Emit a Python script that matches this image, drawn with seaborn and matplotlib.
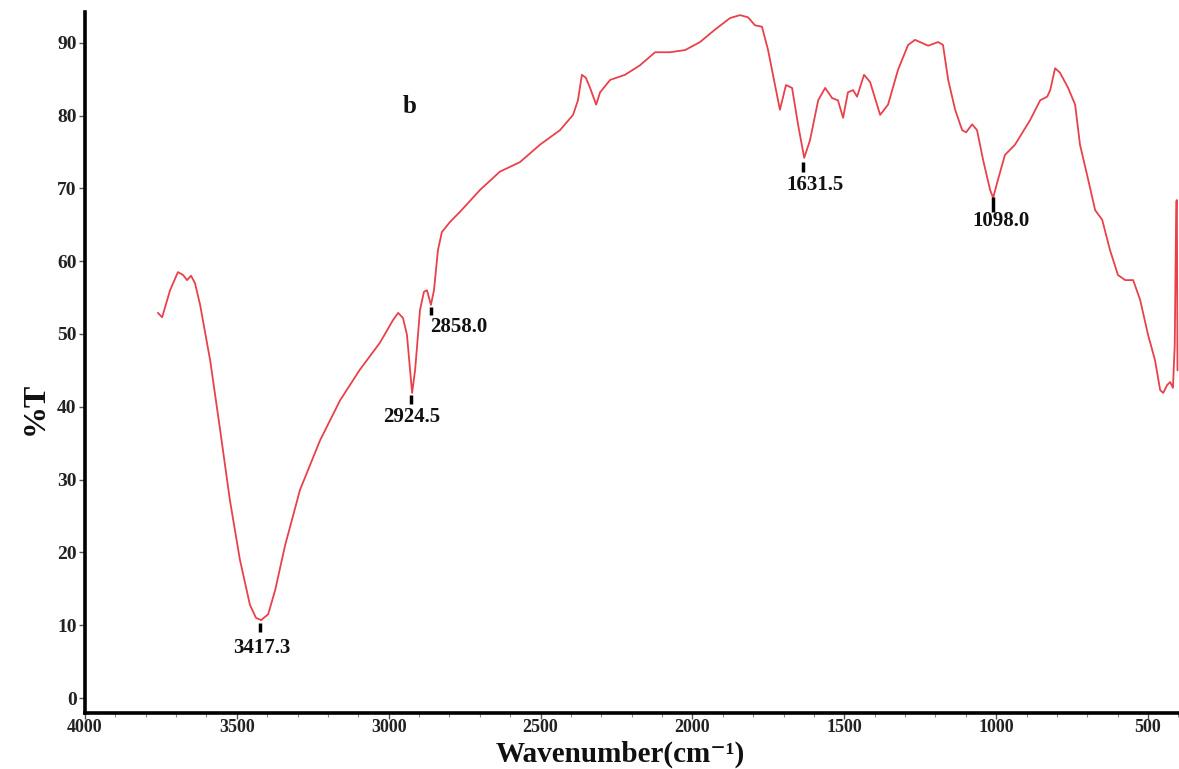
import numpy as np
import pandas as pd
import matplotlib
matplotlib.use("Agg")
import matplotlib.pyplot as plt
import seaborn as sns

# Spectrum (wavenumber cm^-1, %T)
wavenumber = [3760, 3746, 3720, 3694, 3677, 3664, 3651, 3638, 3621, 3588, 3555, 3523, 3490,
              3457, 3437, 3420, 3397, 3374, 3341, 3292, 3226, 3160, 3095, 3029, 2986, 2969,
              2953, 2940, 2930, 2923, 2913, 2897, 2884, 2874, 2861, 2851, 2838, 2825, 2798,
              2765, 2699, 2634, 2568, 2502, 2436, 2393, 2377, 2364, 2351, 2337, 2317, 2304,
              2271, 2222, 2173, 2123, 2074, 2024, 1975, 1926, 1876, 1843, 1817, 1794, 1771,
              1751, 1728, 1712, 1692, 1672, 1652, 1632, 1613, 1586, 1563, 1540, 1521, 1504,
              1488, 1471, 1458, 1435, 1415, 1382, 1356, 1323, 1290, 1267, 1251, 1224, 1191,
              1175, 1158, 1135, 1112, 1099, 1079, 1063, 1043, 1020, 1010, 994, 971, 938, 888,
              855, 832, 822, 806, 790, 763, 740, 724, 697, 674, 651, 625, 599, 575, 549, 526,
              500, 477, 460, 450, 437, 427, 418, 412, 409, 407, 405, 403]
transmittance = [52.9, 52.3, 56.0, 58.5, 58.1, 57.4, 58.0, 57.0, 54.0, 46.4, 36.8, 27.2, 19.0,
                 12.8, 11.0, 10.7, 11.5, 14.8, 21.0, 28.6, 35.4, 40.9, 45.1, 48.8, 51.9, 52.9,
                 52.2, 49.9, 45.1, 41.9, 45.1, 53.3, 55.8, 56.0, 54.0, 56.0, 61.5, 64.0, 65.4,
                 66.8, 69.8, 72.3, 73.6, 76.0, 78.0, 80.1, 82.1, 85.6, 85.2, 83.8, 81.5, 83.2,
                 84.9, 85.6, 86.9, 88.7, 88.7, 89.0, 90.1, 91.8, 93.4, 93.8, 93.5, 92.4, 92.2,
                 89.0, 84.2, 80.8, 84.2, 83.8, 78.7, 74.2, 76.6, 82.1, 83.8, 82.4, 82.1, 79.7,
                 83.2, 83.5, 82.6, 85.6, 84.6, 80.1, 81.5, 86.3, 89.7, 90.4, 90.1, 89.6, 90.1,
                 89.7, 84.9, 80.8, 78.0, 77.7, 78.8, 78.0, 73.9, 69.8, 68.7, 71.2, 74.6, 76.0, 79.4,
                 82.1, 82.6, 83.5, 86.5, 85.9, 83.8, 81.5, 76.0, 71.2, 67.0, 65.7, 61.5, 58.1,
                 57.4, 57.4, 54.7, 49.9, 46.4, 42.3, 41.9, 43.0, 43.4, 42.6, 48.5, 60.0, 68.2,
                 68.4, 45.0]

# Peak annotations: label, tick x, tick top, tick bottom, text x, text y, alignment
peak_labels = ["3417.3", "2924.5", "2858.0", "1631.5", "1098.0"]
peak_x = [3423, 2926, 2861, 1635, 1010]
peak_top = [10.3, 41.6, 53.7, 73.6, 68.8]
peak_bot = [9.0, 40.4, 52.6, 72.3, 66.8]
text_x = [3417, 2923, 2863, 1597, 983]
text_y = [6.8, 38.6, 51.0, 70.4, 65.5]
text_ha = ["center", "center", "left", "center", "center"]

x_ticks = [4000, 3500, 3000, 2500, 2000, 1500, 1000, 500]
y_ticks = [0, 10, 20, 30, 40, 50, 60, 70, 80, 90]

sns.set_theme(style="white")
plt.rcParams["font.family"] = ["Liberation Serif", "DejaVu Serif"]

fig = plt.figure(figsize=(11.79, 7.69), dpi=100)
ax = fig.add_axes([85 / 1179, 1 - 713 / 769, (1179 - 85) / 1179, (713 - 12.2) / 769])

df = pd.DataFrame({"w": wavenumber, "T": transmittance})
sns.lineplot(data=df, x="w", y="T", ax=ax, color="#e8414b", linewidth=1.3,
             sort=False, estimator=None)

for lab, px, pt, pb, tx, ty, ha in zip(peak_labels, peak_x, peak_top, peak_bot,
                                       text_x, text_y, text_ha):
    ax.plot([px, px], [pt, pb], color="black", linewidth=2.5, solid_capstyle="butt")
    ax.text(tx, ty, lab, ha=ha, va="center", fontsize=15, fontweight="bold", color="#111111")

ax.text(2930, 81.2, "b", ha="center", va="center", fontsize=18, fontweight="bold", color="#111111")

ax.set_xlim(4000, 398)
ax.set_ylim(-2.06, 94.2)
ax.set_xticks(x_ticks)
ax.set_xticks(np.arange(4000, 399, -100), minor=True)
ax.set_yticks(y_ticks)

for s in ["top", "right"]:
    ax.spines[s].set_visible(False)
for s in ["left", "bottom"]:
    ax.spines[s].set_color("black")
    ax.spines[s].set_linewidth(2.6)

ax.tick_params(axis="x", which="major", direction="out", length=4, width=1, color="#555555",
               labelsize=13, pad=0, bottom=True)
ax.tick_params(axis="x", which="minor", direction="out", length=3, width=0.8, color="#888888",
               bottom=True)
ax.tick_params(axis="y", which="major", direction="out", length=4, width=1, color="#555555",
               labelsize=14, pad=2, left=True)
for lab in ax.get_xticklabels() + ax.get_yticklabels():
    lab.set_fontweight("bold")
    lab.set_color("#222222")

ax.set_xlabel("")
fig.text(620 / 1179, 1 / 769, "Wavenumber(cm\u207b\u00b9)", ha="center", va="bottom",
         fontsize=21, fontweight="bold", color="#111111",
         family=["Liberation Serif", "DejaVu Serif"])
ax.set_ylabel("%T", fontsize=23, fontweight="bold", color="#111111")
ax.yaxis.set_label_coords(-0.032, 0.435)

fig.savefig("out.png", dpi=100, facecolor="white")
